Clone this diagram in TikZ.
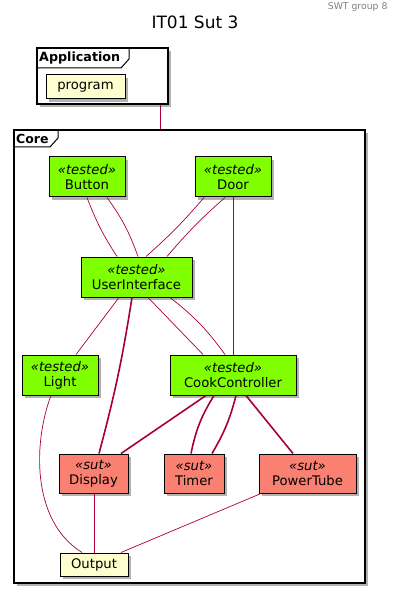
\documentclass[tikz,border=0pt]{standalone}
\usepackage{fontspec}
\setmainfont{DejaVu Sans}
\usetikzlibrary{shadows}
\definecolor{umlred}{HTML}{A80036}
\definecolor{testgreen}{HTML}{7FFF00}
\definecolor{sutred}{HTML}{FA8072}
\definecolor{plainyellow}{HTML}{FEFECE}
\newcommand{\stereo}[1]{{\itshape «#1»}}

\begin{document}
\begin{tikzpicture}[x=1pt,y=-1pt]
	\tikzstyle{every node}=[font=\fontsize{13.2}{15}\selectfont]
	\tikzstyle{shade}=[drop shadow={shadow xshift=3pt,shadow yshift=-3pt,opacity=0.3,fill=black}]
	\tikzstyle{comp}=[draw,line width=1pt,rectangle,align=center,inner sep=0pt,shade]
	\tikzstyle{tested}=[comp,fill=testgreen,minimum height=40pt]
	\tikzstyle{sut}=[comp,fill=sutred,minimum height=39pt]
	\tikzstyle{plainbox}=[comp,fill=plainyellow,minimum height=24pt]
	\tikzstyle{frame}=[draw,line width=1.2pt,fill=white,rectangle,inner sep=0pt,shade]
	\tikzstyle{link}=[draw=umlred,line width=0.7pt]
	\tikzstyle{strong}=[draw=umlred,line width=1.6pt]
	\useasboundingbox (0,0) rectangle (402,593);
	\node[anchor=east,text=gray,font=\fontsize{9.3}{10}\selectfont] (group) at (391,7) {SWT group 8};
	\node[font=\fontsize{17}{18}\selectfont] (title) at (195,22) {IT01 Sut 3};
	\node[frame,minimum width=131pt,minimum height=56pt] (app) at (102.5,76) {};
	\draw[line width=1pt] (37,68) -- (121,68) -- (129,59) -- (129,48);
	\node[anchor=west,font=\bfseries\fontsize{12.7}{14}\selectfont,inner sep=0pt] (applabel) at (39,58) {Application};
	\node[plainbox,minimum width=79pt] (program) at (85.5,87) {program};
	\node[frame,minimum width=351pt,minimum height=453pt] (core) at (189.5,356.5) {};
	\draw[line width=1pt] (14,147) -- (50,147) -- (58,138) -- (58,130);
	\node[anchor=west,font=\bfseries\fontsize{12.5}{14}\selectfont,inner sep=0pt] (corelabel) at (16,139) {Core};
	\draw[link] ([xshift=57.5pt]app.south) -- ([xshift=57.5pt]app.south |- core.north);
	\node[tested,minimum width=76pt] (button) at (87,177) {\stereo{tested}\\Button};
	\node[tested,minimum width=76pt] (door) at (233,177) {\stereo{tested}\\Door};
	\node[tested,minimum width=111pt] (ui) at (136.5,277) {\stereo{tested}\\UserInterface};
	\node[tested,minimum width=76pt] (light) at (60,375) {\stereo{tested}\\Light};
	\node[tested,minimum width=126pt] (cook) at (233,375) {\stereo{tested}\\CookController};
	\node[sut,minimum width=69pt] (display) at (93.5,473.5) {\stereo{sut}\\Display};
	\node[sut,minimum width=60pt] (timer) at (194,473.5) {\stereo{sut}\\Timer};
	\node[sut,minimum width=97pt] (tube) at (307.5,473.5) {\stereo{sut}\\PowerTube};
	\node[plainbox,minimum width=68pt,minimum height=23pt] (output) at (94,564.5) {Output};
	\draw[link] (button.south) to[bend right=6] ([xshift=-19.5pt]ui.north);
	\draw[link] ([xshift=20pt]button.south) to[bend left=8] ([xshift=1.5pt]ui.north);
	\draw[link] ([xshift=-29pt]door.south) to[bend left=4] ([xshift=9.5pt]ui.north);
	\draw[link] ([xshift=-8pt]door.south) to[bend right=4] ([xshift=30.5pt]ui.north);
	\draw[link] (door.south) -- (cook.north);
	\draw[link] ([xshift=-17.5pt]ui.south) -- ([xshift=16pt]light.north);
	\draw[strong] ([xshift=-4.5pt]ui.south) to[bend left=3] ([xshift=5.5pt]display.north);
	\draw[link] ([xshift=11.5pt]ui.south) -- ([xshift=-30pt]cook.north);
	\draw[link] ([xshift=33.5pt]ui.south) to[bend left=8] ([xshift=-8pt]cook.north);
	\draw[strong] ([xshift=-27pt]cook.south) -- ([xshift=27.5pt]display.north);
	\draw[strong] ([xshift=-19pt]cook.south) to[bend right=10] ([xshift=-3pt]timer.north);
	\draw[strong] ([xshift=3pt]cook.south) to[bend left=8] ([xshift=18pt]timer.north);
	\draw[strong] ([xshift=13pt]cook.south) -- ([xshift=-14.5pt]tube.north);
	\draw[link] ([xshift=-9pt]light.south) .. controls (34,440) and (30,520) .. ([xshift=-12pt]output.north);
	\draw[link] ([xshift=0.5pt]display.south) -- (output.north);
	\draw[link] ([xshift=-46.5pt]tube.south) -- ([xshift=27pt]output.north);
\end{tikzpicture}
\end{document}
